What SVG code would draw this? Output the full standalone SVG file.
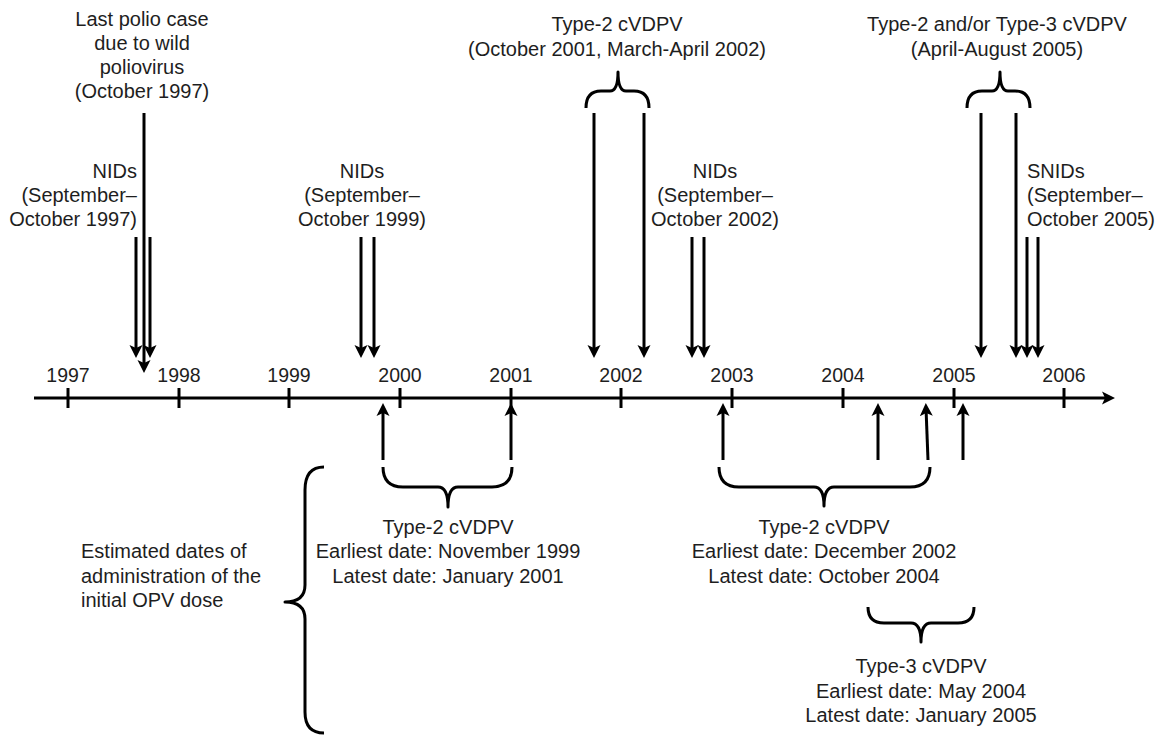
<svg xmlns="http://www.w3.org/2000/svg" width="1159" height="736" viewBox="0 0 1159 736">
<defs>
<marker id="ah" markerUnits="userSpaceOnUse" markerWidth="14" markerHeight="14" viewBox="0 0 14 14" refX="8" refY="7" orient="auto">
<path d="M0,0.5 L13,7 L0,13.5 L3,7 z" fill="#000"/>
</marker>
<style>
text{font-family:"Liberation Sans",Arial,sans-serif;font-size:20px;fill:#1e1e1e}
.yr{font-size:19.5px;text-anchor:middle}
.c{text-anchor:middle}
.r{text-anchor:end}
.ln{stroke:#000;stroke-width:3;fill:none}
.ar{stroke:#000;stroke-width:3;fill:none;marker-end:url(#ah)}
.br{stroke:#000;stroke-width:3;fill:none;stroke-linejoin:round}
</style>
</defs>
<rect width="1159" height="736" fill="#fff"/>

<g id="axis">
<line class="ar" x1="34" y1="398" x2="1110" y2="398"/>
<g class="ln">
<line x1="68" y1="388" x2="68" y2="408"/>
<line x1="179" y1="388" x2="179" y2="408"/>
<line x1="289" y1="388" x2="289" y2="408"/>
<line x1="400" y1="388" x2="400" y2="408"/>
<line x1="511" y1="388" x2="511" y2="408"/>
<line x1="621" y1="388" x2="621" y2="408"/>
<line x1="732" y1="388" x2="732" y2="408"/>
<line x1="843" y1="388" x2="843" y2="408"/>
<line x1="954" y1="388" x2="954" y2="408"/>
<line x1="1064" y1="388" x2="1064" y2="408"/>
</g>
<text class="yr" x="68" y="382">1997</text>
<text class="yr" x="179" y="382">1998</text>
<text class="yr" x="289" y="382">1999</text>
<text class="yr" x="400" y="382">2000</text>
<text class="yr" x="511" y="382">2001</text>
<text class="yr" x="621" y="382">2002</text>
<text class="yr" x="732" y="382">2003</text>
<text class="yr" x="843" y="382">2004</text>
<text class="yr" x="954" y="382">2005</text>
<text class="yr" x="1064" y="382">2006</text>
</g>

<g id="polio-1997">
<text class="c" x="142" y="26">Last polio case</text>
<text class="c" x="142" y="50">due to wild</text>
<text class="c" x="142" y="74">poliovirus</text>
<text class="c" x="142" y="98">(October 1997)</text>
</g>

<g id="nids-1997">
<text class="r" x="137" y="178">NIDs</text>
<text class="r" x="137" y="202">(September–</text>
<text class="r" x="137" y="226">October 1997)</text>
</g>

<g id="nids-1999">
<text class="c" x="362" y="178">NIDs</text>
<text class="c" x="362" y="202">(September–</text>
<text class="c" x="362" y="226">October 1999)</text>
</g>

<g id="type2-2001-2002">
<text class="c" x="617" y="31">Type-2 cVDPV</text>
<text class="c" x="617" y="56">(October 2001, March-April 2002)</text>
<path class="br" d="M586,108 Q586,91 601,91 L610,91 Q618,91 618,72 Q618,91 626,91 L634,91 Q649,91 649,108"/>
</g>

<g id="nids-2002">
<text class="c" x="715" y="178">NIDs</text>
<text class="c" x="715" y="202">(September–</text>
<text class="c" x="715" y="226">October 2002)</text>
</g>

<g id="type23-2005">
<text class="c" x="997" y="31">Type-2 and/or Type-3 cVDPV</text>
<text class="c" x="997" y="56">(April-August 2005)</text>
<path class="br" d="M967,108 Q967,91 982,91 L992,91 Q1000,91 1000,72 Q1000,91 1008,91 L1015,91 Q1030,91 1030,108"/>
</g>

<g id="snids-2005">
<text x="1027" y="178">SNIDs</text>
<text x="1027" y="202">(September–</text>
<text x="1027" y="226">October 2005)</text>
</g>

<g id="estimated-label">
<text x="81" y="558">Estimated dates of</text>
<text x="81" y="583">administration of the</text>
<text x="81" y="607">initial OPV dose</text>
<path class="br" d="M324,467 Q305,467 305,490 L305,585 Q305,602 285,602 Q305,602 305,619 L305,712 Q305,733 324,733"/>
</g>

<g id="type2-1999-2001">
<path class="br" d="M383,467 Q383,487 403,487 L438,487 Q448,487 448,507 Q448,487 458,487 L492,487 Q512,487 512,467"/>
<text class="c" x="448" y="534">Type-2 cVDPV</text>
<text class="c" x="448" y="558">Earliest date: November 1999</text>
<text class="c" x="448" y="583">Latest date: January 2001</text>
</g>

<g id="type2-2002-2004">
<path class="br" d="M719,467 Q719,487 739,487 L814,487 Q824,487 824,506 Q824,487 834,487 L910,487 Q930,487 930,467"/>
<text class="c" x="824" y="534">Type-2 cVDPV</text>
<text class="c" x="824" y="558">Earliest date: December 2002</text>
<text class="c" x="824" y="583">Latest date: October 2004</text>
</g>

<g id="type3-2004-2005">
<path class="br" d="M868,607 Q868,623 884,623 L911,623 Q921,623 921,642 Q921,623 931,623 L958,623 Q974,623 974,607"/>
<text class="c" x="921" y="673">Type-3 cVDPV</text>
<text class="c" x="921" y="698">Earliest date: May 2004</text>
<text class="c" x="921" y="722">Latest date: January 2005</text>
</g>

<g id="connectors">
<line class="ar" x1="144" y1="113" x2="144" y2="368"/>
<line class="ar" x1="136" y1="237" x2="136" y2="353"/>
<line class="ar" x1="150" y1="237" x2="150" y2="353"/>
<line class="ar" x1="361" y1="237" x2="361" y2="353"/>
<line class="ar" x1="374" y1="237" x2="374" y2="353"/>
<line class="ar" x1="594" y1="113" x2="594" y2="353"/>
<line class="ar" x1="644" y1="113" x2="644" y2="353"/>
<line class="ar" x1="692" y1="237" x2="692" y2="353"/>
<line class="ar" x1="704" y1="237" x2="704" y2="353"/>
<line class="ar" x1="981" y1="113" x2="981" y2="353"/>
<line class="ar" x1="1016" y1="113" x2="1016" y2="353"/>
<line class="ar" x1="1027" y1="237" x2="1027" y2="353"/>
<line class="ar" x1="1038" y1="237" x2="1038" y2="353"/>
<line class="ar" x1="383" y1="460" x2="383" y2="408"/>
<line class="ar" x1="511" y1="460" x2="511" y2="408"/>
<line class="ar" x1="723" y1="460" x2="723" y2="408"/>
<line class="ar" x1="878" y1="460" x2="878" y2="408"/>
<line class="ar" x1="928" y1="460" x2="926" y2="408"/>
<line class="ar" x1="963" y1="460" x2="963" y2="408"/>
</g>
</svg>
